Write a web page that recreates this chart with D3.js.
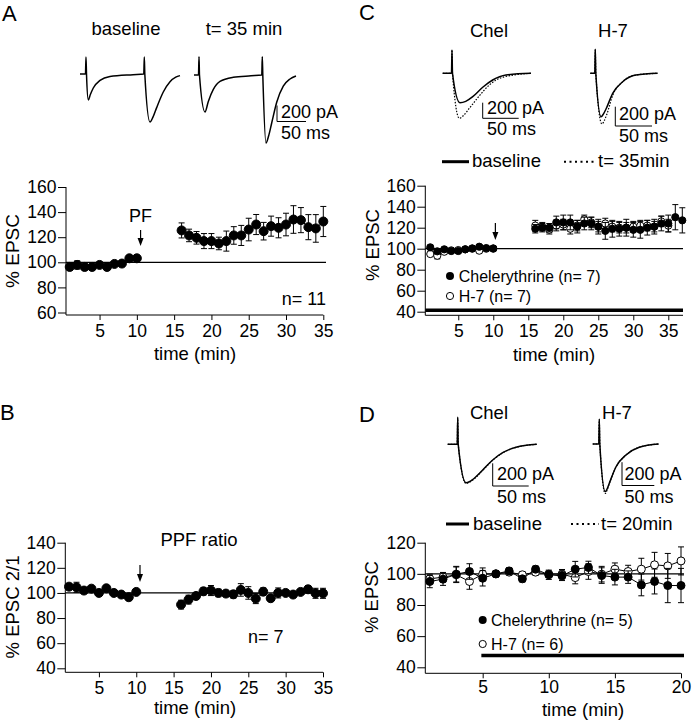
<!DOCTYPE html>
<html><head><meta charset="utf-8">
<script src="https://cdn.jsdelivr.net/npm/d3@7"></script>
<style>body{margin:0;background:#fff}svg{display:block}text{font-family:"Liberation Sans",Arial,sans-serif;fill:#000}</style>
</head><body><svg id="c" width="692" height="720"></svg>
<script>
// ---------- DATA ----------
const aTime = [1,2,3,4,5,6,7,8,9,10,16,17,18,19,20,21,22,23,24,25,26,27,28,29,30,31,32,33,34,35];
const aEPSC = [96.3,97.9,96.3,96.3,97.9,96.3,98.7,99,103.2,103.2,125.4,121.4,119.5,116.9,116.9,115,116.9,121.4,121.4,126.1,130.1,124.8,128.8,127.5,130.1,134.1,133.6,128,127,132.5];
const aErr  = [2.6,3.3,1.5,1.5,1.5,1.5,1.5,1.5,1.5,1.5,6,5,5,6,6,5,8,7,8,9,8,7,8,8,9,11,10,10,11,12];

const bTime = [1,2,3,4,5,6,7,8,9,10,16,17,18,19,20,21,22,23,24,25,26,27,28,29,30,31,32,33,34,35];
const bPPF  = [105,104.5,101.9,103.4,100,103.7,100,98.7,96.6,100.8,90.7,94.7,97.6,101.3,101.9,100,99.5,98.9,102.4,100,95.5,101,95.8,100,100,98.7,100.8,102.9,99.7,99.7];
const bErr  = [2.5,4,1.5,1.5,1.5,1.5,1.5,1.5,1.5,1.5,3.5,3.5,2,3,4,3,2,3,5,5,4,3,2,4,2,2,2,3,4,4];

const cTimeChel = [1,2,3,4,5,6,7,8,9,10,16,17,18,19,20,21,22,23,24,25,26,27,28,29,30,31,32,33,34,35,36,37];
const cChel     = [101.3,97.5,99.4,97.8,97.8,99.4,100.3,101.9,100.6,100.3,119,120,120,125,125,125,121,124,124,121,117,119,119,120,118,118,120,121,124,124,130,127];
const cChelErr  = [2,2,2,2,2,2,2,2,2,2,4,4,4,6,7,7,6,6,6,7,8,8,7,8,7,8,7,7,7,8,12,12];
const cTimeH7   = [1,2,3,4,5,6,7,8,9,10,16,17,18,19,20,21,22,23,24,25,26,27,28,29,30,31,32,33,34,35];
const cH7       = [94.9,93.3,97.1,98.4,98.7,99.4,100,98.1,100,100,122,121,118,122,123,119,122,128,125,121,124,121,120,120,121,122,122,121,126,122];
const cH7Err    = [2,3,2,2,2,2,2,2,2,2,5,4,4,5,5,5,5,4,5,5,5,5,5,5,5,5,5,5,5,6];

const dTime    = [1,2,3,4,5,6,7,8,9,10,11,12,13,14,15,16,17,18,19,20];
const dChel    = [95.1,96.6,99.8,101.5,97.2,100,101.9,96.8,103,99.4,98.7,103,104.1,98.9,97.9,97.9,92.9,95.1,92.5,92.5];
const dChelErr = [4,4,5,5,5,2,2,2,2,3,3,5,4,5,5,4,7,8,11,11];
const dH7      = [96.8,97.9,99.4,95.1,99.8,100,101.1,99.4,101.1,99.8,99.8,97.6,101.5,99.8,103,101.5,103,105.8,105.1,108.3];
const dH7Err   = [3,3,5,5,4,2,2,2,2,2,3,4,5,5,4,4,7,8,8,9];

const abXTicks = [5,10,15,20,25,30,35];
const aYTicks  = [60,80,100,120,140,160];
const bYTicks  = [40,60,80,100,120,140];
const cXTicks  = [5,10,15,20,25,30,35];
const cYTicks  = [40,60,80,100,120,140,160];
const dXTicks  = [5,10,15,20];
const dYTicks  = [40,60,80,100,120];

// sample traces: [ms, pA]
const traceABase = [[0,0],[9.6,0],[10.5,212],[11.4,0],[14.6,-325],[18,-260],[23.3,-175],[35.1,-80],[52.6,-30],[93,-8],[111.9,0],[112.8,212],[113.7,0],[122.8,-600],[128,-540],[134.5,-420],[146.1,-225],[157.9,-96],[168,-40],[175.4,-20]];
const traceA35   = [[0,0],[7.9,0],[8.8,229],[9.6,0],[19.3,-462],[25.1,-330],[33.9,-180],[45.6,-80],[68.9,-29],[100,-10],[118.9,0],[119.8,229],[120.7,0],[126.3,-850],[131,-760],[136.3,-600],[145.1,-340],[156.6,-140],[168.4,-50],[178.9,-12]];
const traceCChelBase = [[0,0],[12.2,0],[12.9,299],[13.6,0],[24,-377],[32,-360],[41.7,-300],[55.6,-179],[69.4,-86],[87.9,-22],[122.6,0]];
const traceCChel35   = [[0,0],[12.2,0],[12.9,299],[13.6,0],[23.1,-577],[29,-540],[36.9,-450],[50.8,-290],[64.7,-150],[83.3,-51],[122.6,0]];
const traceCH7Base = [[0,0],[6.1,0],[6.8,249],[7.5,0],[14.6,-450],[18,-420],[21.4,-370],[30.5,-207],[44.1,-87],[62.2,-18],[91.8,0]];
const traceCH735   = [[0,0],[6.1,0],[6.8,249],[7.5,0],[15.9,-525],[19,-490],[22.3,-430],[30.5,-228],[44.1,-87],[62.2,-18],[91.8,0]];
const traceDChelBase = [[0,0],[13.2,0],[13.9,238],[14.6,0],[25.4,-338],[30,-330],[34.7,-310],[48.6,-226],[62.5,-138],[76.4,-74],[94.9,-26],[123.6,0]];
const traceDChel20   = [[0,0],[13.2,0],[13.9,238],[14.6,0],[25.4,-345],[30,-335],[34.7,-316],[48.6,-230],[62.5,-140],[76.4,-76],[94.9,-27],[123.6,0]];
const traceDH7Base = [[0,0],[9.4,0],[10.2,212],[11,0],[19.5,-409],[22,-390],[25.7,-337],[36.1,-195],[51.5,-94],[72.1,-28],[102.2,0]];
const traceDH720   = [[0,0],[9.4,0],[10.2,212],[11,0],[19.5,-425],[22,-400],[25.7,-340],[36.1,-197],[51.5,-95],[72.1,-28],[102.2,0]];

// ---------- DRAW ----------
const svg = d3.select('#c');
const FF = '"Liberation Sans", Arial, sans-serif';

function txt(x, y, s, size, anchor, g) {
  return (g || svg).append('text').attr('x', x).attr('y', y).attr('font-size', size)
    .attr('text-anchor', anchor || 'start').text(s);
}
function styleAxis(g, size) {
  g.attr('font-size', null).attr('font-family', null);
  g.selectAll('text').attr('font-size', size).attr('font-family', FF).attr('fill', '#000');
  g.selectAll('line').attr('stroke', '#000').attr('stroke-width', 1);
  g.select('.domain').remove();
}
function segments(t) {
  const segs = []; let cur = [];
  t.forEach((v, i) => { if (i > 0 && v - t[i - 1] > 1) { segs.push(cur); cur = []; } cur.push(i); });
  segs.push(cur); return segs;
}
function arrow(x, y0, y1) {
  svg.append('line').attr('x1', x).attr('x2', x).attr('y1', y0).attr('y2', y1 - 3).attr('stroke', '#000').attr('stroke-width', 1.2);
  svg.append('path').attr('d', `M${x - 3},${y1 - 8}L${x},${y1}L${x + 3},${y1 - 8}Z`).attr('fill', '#000');
}

function panel(cfg) {
  const x = d3.scaleLinear().domain(cfg.xDom).range(cfg.xRange);
  const y = d3.scaleLinear().domain(cfg.yDom).range(cfg.yRange);
  const x0 = cfg.xRange[0];
  const gy = svg.append('g').attr('transform', `translate(${x0},0)`)
    .call(d3.axisLeft(y).tickValues(cfg.yTicks).tickSize(8).tickPadding(1.5));
  styleAxis(gy, 17.5);
  svg.append('line').attr('x1', x0).attr('x2', x0).attr('y1', y(cfg.yTicks[cfg.yTicks.length - 1]))
    .attr('y2', cfg.xAxisY).attr('stroke', '#000');
  const gx = svg.append('g').attr('transform', `translate(0,${cfg.xAxisY})`)
    .call(d3.axisBottom(x).tickValues(cfg.xTicks).tickSize(5).tickPadding(cfg.xPad != null ? cfg.xPad : 4.5));
  styleAxis(gx, 17.5);
  svg.append('line').attr('x1', x0).attr('x2', cfg.xRange[1]).attr('y1', cfg.xAxisY).attr('y2', cfg.xAxisY).attr('stroke', '#000');
  // reference line at 100
  svg.append('line').attr('x1', x0).attr('x2', cfg.refEnd).attr('y1', y(100)).attr('y2', y(100)).attr('stroke', '#000').attr('stroke-width', 1.2);
  if (cfg.bar) {
    svg.append('line').attr('x1', cfg.bar.from != null ? x(cfg.bar.from) : x0).attr('x2', cfg.refEnd)
      .attr('y1', y(cfg.bar.v)).attr('y2', y(cfg.bar.v)).attr('stroke', '#000').attr('stroke-width', 3.5);
  }
  cfg.series.forEach(s => {
    const line = d3.line().x(i => x(s.t[i])).y(i => y(s.v[i]));
    segments(s.t).forEach(seg => {
      svg.append('path').attr('d', line(seg)).attr('fill', 'none').attr('stroke', '#000').attr('stroke-width', 1);
    });
    s.t.forEach((t, i) => {
      const xx = x(t), lo = y(s.v[i] - s.e[i]), hi = y(s.v[i] + s.e[i]);
      svg.append('line').attr('x1', xx).attr('x2', xx).attr('y1', lo).attr('y2', hi).attr('stroke', '#000').attr('stroke-width', 1);
      svg.append('line').attr('x1', xx - 3).attr('x2', xx + 3).attr('y1', lo).attr('y2', lo).attr('stroke', '#000').attr('stroke-width', 1);
      svg.append('line').attr('x1', xx - 3).attr('x2', xx + 3).attr('y1', hi).attr('y2', hi).attr('stroke', '#000').attr('stroke-width', 1);
    });
    s.t.forEach((t, i) => {
      svg.append('circle').attr('cx', x(t)).attr('cy', y(s.v[i])).attr('r', cfg.r)
        .attr('fill', s.open ? '#fff' : '#000').attr('stroke', '#000').attr('stroke-width', 1);
    });
  });
  return { x, y };
}

function trace(data, ox, oy, w50, h200, dotted, width) {
  const xs = d3.scaleLinear().domain([0, 50]).range([ox, ox + w50]);
  const ys = d3.scaleLinear().domain([0, -200]).range([oy, oy + h200]);
  const line = d3.line().x(d => xs(d[0])).y(d => ys(d[1])).curve(d3.curveMonotoneX);
  const p = svg.append('path').attr('d', line(data)).attr('fill', 'none').attr('stroke', '#000')
    .attr('stroke-width', width || 1.5).attr('stroke-linejoin', 'round');
  if (dotted) p.attr('stroke-dasharray', '1.5,1.5');
}
function scaleBar(bx, byBottom, w50, h200, tx, ty1, ty2) {
  svg.append('path').attr('d', `M${bx},${byBottom - h200}V${byBottom}H${bx + w50}`).attr('fill', 'none').attr('stroke', '#000').attr('stroke-width', 1);
  txt(tx, ty1, '200 pA', 18);
  txt(tx, ty2, '50 ms', 18);
}

// ---------- Panel A ----------
txt(2, 21, 'A', 22);
txt(126, 35, 'baseline', 18.5, 'middle');
txt(244, 35, 't= 35 min', 18.5, 'middle');
trace(traceABase, 80, 74, 28.5, 16);
trace(traceA35, 194, 75, 28.5, 16);
scaleBar(277, 121.5, 29, 16, 281, 118, 139);
const pA = panel({ xDom: [0.5, 35], xRange: [66, 323.3], yDom: [60, 160], yRange: [312.5, 187], xAxisY: 315, refEnd: 326,
  xTicks: abXTicks, yTicks: aYTicks, r: 4.5, series: [{ t: aTime, v: aEPSC, e: aErr }] });
txt(pA.x(10.5), 221.5, 'PF', 18, 'middle');
arrow(pA.x(10.5), 230, 246);
txt(326, 305, 'n= 11', 18, 'end');
txt(195, 360, 'time (min)', 18.5, 'middle');
svg.append('text').attr('transform', 'translate(19,251) rotate(-90)').attr('text-anchor', 'middle').attr('font-size', 19).text('% EPSC');

// ---------- Panel B ----------
txt(0, 420, 'B', 22);
const pB = panel({ xDom: [0.5, 35], xRange: [65.3, 323], yDom: [40, 140], yRange: [668.3, 542.7], xAxisY: 672.3, refEnd: 326,
  xTicks: abXTicks, yTicks: bYTicks, r: 4.5, series: [{ t: bTime, v: bPPF, e: bErr }] });
txt(199, 546, 'PPF ratio', 18.5, 'middle');
arrow(pB.x(10.5), 565, 582);
txt(248, 643, 'n= 7', 18);
txt(195, 714, 'time (min)', 18.5, 'middle');
svg.append('text').attr('transform', 'translate(18.5,607) rotate(-90)').attr('text-anchor', 'middle').attr('font-size', 18.5).text('% EPSC 2/1');

// ---------- Panel C ----------
txt(359, 20, 'C', 22);
txt(489, 37, 'Chel', 18.5, 'middle');
txt(613, 37, 'H-7', 18.5, 'middle');
trace(traceCChel35, 442.7, 73.3, 36, 15.6, true, 1.2);
trace(traceCChelBase, 442.7, 73.3, 36, 15.6, false, 1.5);
trace(traceCH735, 590.3, 73.3, 36.7, 19.3, true, 1.2);
trace(traceCH7Base, 590.3, 73.3, 36.7, 19.3, false, 1.5);
scaleBar(482.7, 118.3, 36, 15.6, 487, 114, 135);
scaleBar(615.3, 126, 36.7, 19.3, 619, 119.5, 141.5);
svg.append('line').attr('x1', 442).attr('x2', 469).attr('y1', 161.7).attr('y2', 161.7).attr('stroke', '#000').attr('stroke-width', 3);
txt(472, 167, 'baseline', 18.5);
svg.append('line').attr('x1', 564).attr('x2', 596).attr('y1', 161.7).attr('y2', 161.7).attr('stroke', '#000').attr('stroke-width', 2).attr('stroke-dasharray', '2,3.5');
txt(598, 167, 't= 35min', 18.5);
const pC = panel({ xDom: [0.29, 37.1], xRange: [425.3, 683], yDom: [40, 160], yRange: [311.7, 185.7], xAxisY: 315.3, refEnd: 683,
  xTicks: cXTicks, yTicks: cYTicks, r: 3.6, bar: { v: 41.3 },
  series: [{ t: cTimeH7, v: cH7, e: cH7Err, open: true }, { t: cTimeChel, v: cChel, e: cChelErr }] });
arrow(pC.x(10.3), 223, 240);
svg.append('circle').attr('cx', 450).attr('cy', 276).attr('r', 4).attr('fill', '#000');
txt(458.7, 282, 'Chelerythrine (n= 7)', 16);
svg.append('circle').attr('cx', 450).attr('cy', 296).attr('r', 3.6).attr('fill', '#fff').attr('stroke', '#000');
txt(458.7, 302, 'H-7 (n= 7)', 16);
txt(554, 361, 'time (min)', 18.5, 'middle');
svg.append('text').attr('transform', 'translate(379,245) rotate(-90)').attr('text-anchor', 'middle').attr('font-size', 18.5).text('% EPSC');

// ---------- Panel D ----------
txt(359, 422, 'D', 22);
txt(489, 419, 'Chel', 18.5, 'middle');
txt(617, 419, 'H-7', 18.5, 'middle');
trace(traceDChel20, 447.7, 444.3, 36, 22.7, true, 1.2);
trace(traceDChelBase, 447.7, 444.3, 36, 22.7, false, 1.5);
trace(traceDH720, 592.7, 444, 32.3, 23.3, true, 1.2);
trace(traceDH7Base, 592.7, 444, 32.3, 23.3, false, 1.5);
scaleBar(492.7, 486, 36, 22.7, 497, 480, 502.5);
scaleBar(622, 485.5, 32.3, 23.3, 624.5, 480, 502.5);
svg.append('line').attr('x1', 446).attr('x2', 469).attr('y1', 524).attr('y2', 524).attr('stroke', '#000').attr('stroke-width', 3);
txt(473, 529.5, 'baseline', 18.5);
svg.append('line').attr('x1', 571).attr('x2', 599).attr('y1', 524).attr('y2', 524).attr('stroke', '#000').attr('stroke-width', 2).attr('stroke-dasharray', '2,3.5');
txt(601, 529.5, 't= 20min', 18.5);
const pD = panel({ xDom: [0.66, 20], xRange: [425.3, 681], yDom: [40, 120], yRange: [667.3, 542.7], xAxisY: 673.3, refEnd: 684,
  xTicks: dXTicks, yTicks: dYTicks, r: 4, xPad: 2.5, bar: { v: 47.5, from: 4.9 },
  series: [{ t: dTime, v: dH7, e: dH7Err, open: true }, { t: dTime, v: dChel, e: dChelErr }] });
svg.append('circle').attr('cx', 482.7).attr('cy', 620).attr('r', 4).attr('fill', '#000');
txt(491, 625.5, 'Chelerythrine (n= 5)', 16);
svg.append('circle').attr('cx', 482.7).attr('cy', 644).attr('r', 3.6).attr('fill', '#fff').attr('stroke', '#000');
txt(491, 649.5, 'H-7 (n= 6)', 16);
txt(583, 715.5, 'time (min)', 18.5, 'middle');
svg.append('text').attr('transform', 'translate(378,597) rotate(-90)').attr('text-anchor', 'middle').attr('font-size', 18.5).text('% EPSC');
</script></body></html>
